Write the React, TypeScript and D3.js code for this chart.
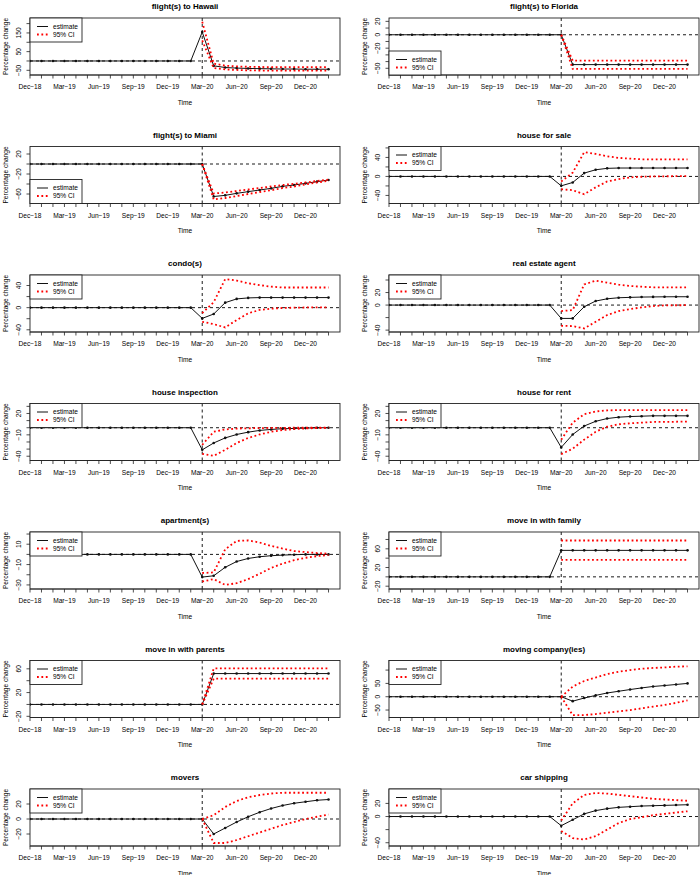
import React from 'react';
import * as d3 from 'd3';

// ---------- data ----------
const months = ['Dec-18','Jan-19','Feb-19','Mar-19','Apr-19','May-19','Jun-19','Jul-19','Aug-19','Sep-19','Oct-19','Nov-19','Dec-19','Jan-20','Feb-20','Mar-20','Apr-20','May-20','Jun-20','Jul-20','Aug-20','Sep-20','Oct-20','Nov-20','Dec-20','Jan-21','Feb-21'];
const xTickLabels = ['Dec-18','Mar-19','Jun-19','Sep-19','Dec-19','Mar-20','Jun-20','Sep-20','Dec-20'];
const interventionMonth = 'Mar-20';
const ciStartMonth = 'Mar-20';

const hawaiiEst = [0,0,0,0,0,0,0,0,0,0,0,0,0,0,0,155,-26,-35,-38,-40,-41,-42,-43,-43,-44,-44,-44];
const hawaiiUp = [210,-14,-25,-29,-31,-32,-33,-33,-33,-33,-33,-33];
const hawaiiLo = [110,-38,-45,-48,-50,-51,-52,-52,-52,-52,-52,-52];

const floridaEst = [0,0,0,0,0,0,0,0,0,0,0,0,0,0,0,0,-44.5,-44.5,-44.5,-44.5,-44.5,-44.5,-44.5,-44.5,-44.5,-44.5,-44.5];
const floridaUp = [0,-38.5,-38.5,-38.5,-38.5,-38.5,-38.5,-38.5,-38.5,-38.5,-38.5,-38.5];
const floridaLo = [0,-51,-51,-51,-51,-51,-51,-51,-51,-51,-51,-51];

const miamiEst = [0,0,0,0,0,0,0,0,0,0,0,0,0,0,0,0,-65,-62.7,-58.7,-55.3,-52,-48.7,-44.7,-42,-38.7,-35.3,-32];
const miamiUp = [0,-59,-57,-54,-51,-48,-45,-42,-39.5,-37,-34,-31];
const miamiLo = [0,-71,-68,-64,-60,-56,-52.5,-48,-45,-41,-37,-33.5];

const saleEst = [0,0,0,0,0,0,0,0,0,0,0,0,0,0,0,-19.8,-12.7,7,14,17,17.7,17.7,17.7,17.7,17.7,17.7,17.7];
const saleUp = [-10.6,8,51,47.4,42.5,39,37.5,36,36,36,36,36];
const saleLo = [-27,-29,-37.5,-23,-10.6,-5.7,-2,-0.7,0,0.3,0.5,0.7];

const condoEst = [0,0,0,0,0,0,0,0,0,0,0,0,0,0,0,-19.4,-11.5,9,15.8,17.6,18.2,18.2,18.2,18.2,18.2,18.2,18.2];
const condoUp = [-10,10,51.5,49,44,40.6,38,36.4,36.4,36.4,36.4,36.4];
const condoLo = [-25.5,-29.7,-35.8,-22.4,-10.3,-4.2,-1.8,-0.6,0,0.3,0.5,0.6];

const agentEst = [0,0,0,0,0,0,0,0,0,0,0,0,0,0,0,-21.3,-21.3,-2.7,6.4,10,11.7,12.3,12.8,13,13.2,13.3,13.3];
const agentUp = [-9.6,-8,33,39,35.7,32.5,30.4,29.3,28.3,28.3,28.3,28.3];
const agentLo = [-33,-33.6,-37.3,-26.7,-16,-9.6,-6.4,-3.7,-1.6,-0.5,-0.3,-0.2];

const inspectEst = [0,0,0,0,0,0,0,0,0,0,0,0,0,0,0,-31,-21.4,-14.3,-9.5,-6.2,-3.8,-2.4,-1.4,-1,-0.5,0,0];
const inspectUp = [-24,-5.7,-2.4,-1.2,-0.8,-0.5,-0.3,-0.2,0,0,0,0.2];
const inspectLo = [-36.7,-39.5,-31,-21.4,-14.3,-9.5,-5.7,-3.3,-1.9,-1,-0.5,0];

const rentEst = [0,0,0,0,0,0,0,0,0,0,0,0,0,0,0,-27.6,-9.5,2.4,9,12.9,14.8,15.7,16.2,16.7,16.7,16.7,16.7];
const rentUp = [-16.7,7,19,22.9,24.3,24.8,24.8,24.8,24.8,24.8,24.8,24.8];
const rentLo = [-37,-29.5,-16.7,-5.7,1.4,4.8,6.2,7.1,8.1,8.1,8.4,8.6];

const aptEst = [0,0,0,0,0,0,0,0,0,0,0,0,0,0,0,-22.3,-21,-12.7,-7,-4,-2.3,-1.3,-0.7,-0.3,0,0,0];
const aptUp = [-18.3,-17.7,5,13.3,13.7,11.7,8.3,5.7,3.3,2.3,1.3,0.7];
const aptLo = [-26.7,-24.3,-30,-28.3,-24.3,-19,-13.3,-9,-5.7,-3.3,-1.7,-0.7];

const familyEst = [0,0,0,0,0,0,0,0,0,0,0,0,0,0,0,56.7,56.7,56.7,56.7,56.7,56.7,56.7,56.7,56.7,56.7,56.7,56.7];
const familyUp = [77.8,77.8,77.8,77.8,77.8,77.8,77.8,77.8,77.8,77.8,77.8,77.8];
const familyLo = [36.4,36.4,36.4,36.4,36.4,36.4,36.4,36.4,36.4,36.4,36.4,36.4];

const parentsEst = [0,0,0,0,0,0,0,0,0,0,0,0,0,0,0,0,52,52,52,52,52,52,52,52,52,52,52];
const parentsUp = [0,60.6,60.6,60.6,60.6,60.6,60.6,60.6,60.6,60.6,60.6,60.6];
const parentsLo = [0,43.4,43.4,43.4,43.4,43.4,43.4,43.4,43.4,43.4,43.4,43.4];

const movingCoEst = [0,0,0,0,0,0,0,0,0,0,0,0,0,0,0,0,-16.7,-5,5,14,20.5,27,33,38.5,42,46,50];
const movingCoUp = [0,38,59,72,85,94,100,105,108,110,113,114];
const movingCoLo = [0,-69,-69,-65,-60,-55,-50,-43.6,-37,-31,-23,-14];

const moversEst = [0,0,0,0,0,0,0,0,0,0,0,0,0,0,0,0,-20,-12,-4,3,9,14,18,21,23,25,26];
const moversUp = [0,5,16,24,29,32,34,35,35,35,35,35];
const moversLo = [0,-32,-32,-28,-23,-18,-13,-8,-4,0,3,6];

const carEst = [0,0,0,0,0,0,0,0,0,0,0,0,0,0,0,-14,-5,4,9,12,14,15,16,16.5,17,17.5,18];
const carUp = [-6,20,33,36,35,33,31,29,27,26,25,24];
const carLo = [-22,-33,-35,-30,-20,-10,-4,-1,2,4,6,8];

const titles = ['flight(s) to Hawaii','flight(s) to Florida','flight(s) to Miami','house for sale','condo(s)','real estate agent','house inspection','house for rent','apartment(s)','move in with family','move in with parents','moving company(ies)','movers','car shipping'];

const yTicksHawaii = [-50, 0, 50, 100, 150, 200];
const yLabelsHawaii = [-50, 50, 150];
const yTicksFlorida = [-50, -40, -30, -20, -10, 0, 10, 20];
const yLabelsFlorida = [-50, -20, 0, 20];
const yTicksMiami = [-60, -40, -20, 0, 20];
const yLabelsMiami = [-60, -20, 20];
const yTicksSale = [-40, -20, 0, 20, 40, 60];
const yLabelsSale = [-40, 0, 40];
const yTicksCondo = [-40, -20, 0, 20, 40];
const yLabelsCondo = [-40, 0, 40];
const yTicksAgent = [-40, -20, 0, 20, 40];
const yLabelsAgent = [-40, 0, 20];
const yTicksTen = [-40, -30, -20, -10, 0, 10, 20, 30];
const yLabelsTen = [-40, -10, 20];
const yTicksApt = [-30, -20, -10, 0, 10, 20];
const yLabelsApt = [-30, -10, 10];
const yTicksFamily = [-20, 0, 20, 40, 60, 80];
const yLabelsFamily = [-20, 20, 60];
const yTicksParents = [-20, 0, 20, 40, 60];
const yLabelsParents = [-20, 20, 60];
const yTicksMovingCo = [-50, 0, 50, 100];
const yLabelsMovingCo = [-50, 0, 50];
const yTicksMovers = [-20, 0, 20];
const yLabelsMovers = [-20, 0, 20];
const yTicksCar = [-40, -20, 0, 20];
const yLabelsCar = [-40, 0, 20];

const legendLabels = ['estimate', '95% CI'];

// ---------- panels ----------
type P = { title: string; est: number[]; up: number[]; lo: number[]; dom: [number, number]; ticks: number[]; labels: number[]; legendBottom?: boolean };
const panels: P[] = [
  { title: titles[0], est: hawaiiEst, up: hawaiiUp, lo: hawaiiLo, dom: [-75, 230], ticks: yTicksHawaii, labels: yLabelsHawaii },
  { title: titles[1], est: floridaEst, up: floridaUp, lo: floridaLo, dom: [-60, 25], ticks: yTicksFlorida, labels: yLabelsFlorida, legendBottom: true },
  { title: titles[2], est: miamiEst, up: miamiUp, lo: miamiLo, dom: [-79, 35], ticks: yTicksMiami, labels: yLabelsMiami, legendBottom: true },
  { title: titles[3], est: saleEst, up: saleUp, lo: saleLo, dom: [-57, 63], ticks: yTicksSale, labels: yLabelsSale },
  { title: titles[4], est: condoEst, up: condoUp, lo: condoLo, dom: [-44, 59], ticks: yTicksCondo, labels: yLabelsCondo },
  { title: titles[5], est: agentEst, up: agentUp, lo: agentLo, dom: [-43, 48], ticks: yTicksAgent, labels: yLabelsAgent },
  { title: titles[6], est: inspectEst, up: inspectUp, lo: inspectLo, dom: [-46, 34], ticks: yTicksTen, labels: yLabelsTen },
  { title: titles[7], est: rentEst, up: rentUp, lo: rentLo, dom: [-46, 34], ticks: yTicksTen, labels: yLabelsTen },
  { title: titles[8], est: aptEst, up: aptUp, lo: aptLo, dom: [-34, 22], ticks: yTicksApt, labels: yLabelsApt },
  { title: titles[9], est: familyEst, up: familyUp, lo: familyLo, dom: [-26, 96], ticks: yTicksFamily, labels: yLabelsFamily },
  { title: titles[10], est: parentsEst, up: parentsUp, lo: parentsLo, dom: [-22, 74], ticks: yTicksParents, labels: yLabelsParents },
  { title: titles[11], est: movingCoEst, up: movingCoUp, lo: movingCoLo, dom: [-78, 136], ticks: yTicksMovingCo, labels: yLabelsMovingCo },
  { title: titles[12], est: moversEst, up: moversUp, lo: moversLo, dom: [-36, 40], ticks: yTicksMovers, labels: yLabelsMovers },
  { title: titles[13], est: carEst, up: carUp, lo: carLo, dom: [-45, 42], ticks: yTicksCar, labels: yLabelsCar },
];

// ---------- layout ----------
const W = 700, H = 875;
const COL_X = [30, 389];
const BOX_W = 310;
const BOX_H = 57;
const TOP0 = 18;
const ROW_STEP = 128.5;
const FONT = '"Liberation Sans", Arial, Helvetica, sans-serif';
const FS = 6.6;

function Panel({ p, idx }: { p: P; idx: number }) {
  const col = idx % 2, row = Math.floor(idx / 2);
  const left = COL_X[col];
  const top = TOP0 + ROW_STEP * row;
  const right = left + BOX_W, bottom = top + BOX_H;
  const x = d3.scaleLinear().domain([0, months.length]).range([left, right]);
  const y = d3.scaleLinear().domain(p.dom).range([bottom, top]);
  const ciStart = months.indexOf(ciStartMonth);
  const estLine = d3.line<number>().x((_, i) => x(i)).y(d => y(d));
  const ciLine = d3.line<number>().x((_, i) => x(i + ciStart)).y(d => y(d));
  const clipId = `clip${idx}`;
  const vx = x(months.indexOf(interventionMonth));
  const legH = 24, legW = 52;
  const legY = p.legendBottom ? bottom - legH : top;
  const cx = (left + right) / 2;
  return (
    <g>
      <defs>
        <clipPath id={clipId}><rect x={left} y={top} width={BOX_W} height={BOX_H} /></clipPath>
      </defs>
      <text x={cx} y={top - 9} textAnchor="middle" fontFamily={FONT} fontSize={8} fontWeight="bold">{p.title}</text>
      <g clipPath={`url(#${clipId})`}>
        <line x1={left} x2={right} y1={y(0)} y2={y(0)} stroke="#000" strokeWidth={0.9} strokeDasharray="3,3" />
        <line x1={vx} x2={vx} y1={top} y2={bottom} stroke="#000" strokeWidth={0.9} strokeDasharray="3,3" />
        <path d={estLine(p.est) || ''} fill="none" stroke="#111" strokeWidth={1} />
        {p.est.map((d, i) => <circle key={i} cx={x(i)} cy={y(d)} r={1.3} fill="#111" />)}
        <path d={ciLine(p.up) || ''} fill="none" stroke="#ff0000" strokeWidth={1.8} strokeDasharray="1.8,2.6" />
        <path d={ciLine(p.lo) || ''} fill="none" stroke="#ff0000" strokeWidth={1.8} strokeDasharray="1.8,2.6" />
      </g>
      <rect x={left} y={top} width={BOX_W} height={BOX_H} fill="none" stroke="#222" strokeWidth={0.9} />
      <line x1={x(0)} x2={x(months.length - 1)} y1={bottom} y2={bottom} stroke="#222" strokeWidth={0.8} />
      {months.map((m, i) => <line key={m} x1={x(i)} x2={x(i)} y1={bottom} y2={bottom + 3.5} stroke="#222" strokeWidth={0.8} />)}
      {xTickLabels.map(m => (
        <text key={m} x={x(months.indexOf(m))} y={bottom + 14} textAnchor="middle" fontFamily={FONT} fontSize={FS}>{m.replace('-', '\u2212')}</text>
      ))}
      <text x={cx} y={bottom + 29.5} textAnchor="middle" fontFamily={FONT} fontSize={FS}>Time</text>
      {p.ticks.map(t => <line key={t} x1={left - 3.5} x2={left} y1={y(t)} y2={y(t)} stroke="#222" strokeWidth={0.8} />)}
      {p.labels.map(t => (
        <text key={t} transform={`translate(${left - 9.5},${y(t)}) rotate(-90)`} textAnchor="middle" fontFamily={FONT} fontSize={FS}>{String(t).replace('-', '\u2212')}</text>
      ))}
      <text transform={`translate(${left - 22.5},${(top + bottom) / 2}) rotate(-90)`} textAnchor="middle" fontFamily={FONT} fontSize={FS}>Percentage change</text>
      <rect x={left} y={legY} width={legW} height={legH} fill="#fff" stroke="#222" strokeWidth={0.9} />
      <line x1={left + 7} x2={left + 18} y1={legY + 8.5} y2={legY + 8.5} stroke="#111" strokeWidth={1} />
      <line x1={left + 7} x2={left + 18} y1={legY + 16.5} y2={legY + 16.5} stroke="#ff0000" strokeWidth={1.8} strokeDasharray="1.8,2.6" />
      <text x={left + 23} y={legY + 10.8} fontFamily={FONT} fontSize={FS}>{legendLabels[0]}</text>
      <text x={left + 23} y={legY + 18.8} fontFamily={FONT} fontSize={FS}>{legendLabels[1]}</text>
    </g>
  );
}

export default function App() {
  return (
    <svg width={W} height={H} viewBox={`0 0 ${W} ${H}`} style={{ position: 'absolute', left: 0, top: 0, background: '#fff' }}>
      <rect x={0} y={0} width={W} height={H} fill="#fff" />
      {panels.map((p, i) => <Panel key={i} p={p} idx={i} />)}
    </svg>
  );
}
